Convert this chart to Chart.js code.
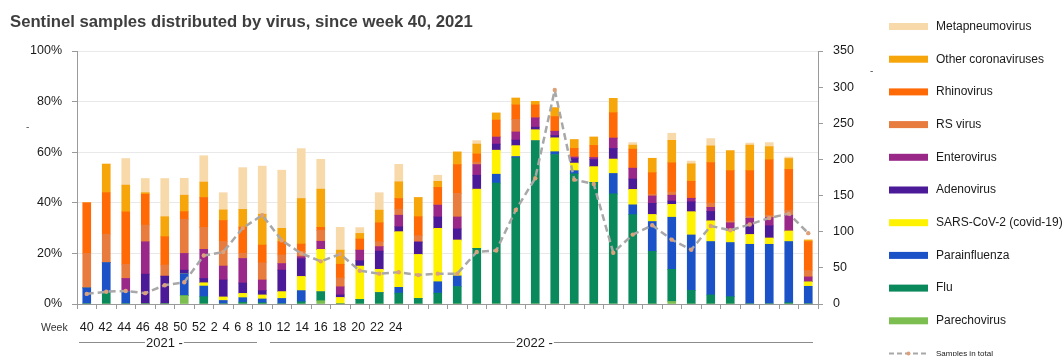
<!DOCTYPE html>
<html>
<head>
<meta charset="utf-8">
<script src="https://cdn.jsdelivr.net/npm/chart.js@4.4.0/dist/chart.umd.min.js"></script>
<style>
  html, body { margin: 0; padding: 0; background: #ffffff; overflow: hidden; }
  #wrap { position: relative; width: 1062px; height: 356px; }
</style>
</head>
<body>
<div id="wrap"><canvas id="c" width="1062" height="356"></canvas></div>
<script>
// Week numbers printed under the axis (two-week steps from week 40, 2021)
const weekTicks = ['40','42','44','46','48','50','52','2','4','6','8','10','12','14','16','18','20','22','24'];
const yearLabels = ['2021', '2022'];
const barCount = 38;
const categories = Array.from({ length: barCount }, (_, i) => i < weekTicks.length ? weekTicks[i] : '');

// Share of sentinel samples per virus, percent (stacked bottom to top)
const parechovirus = [0,0,0,0,0,3.3,0,0,0,0, 0,0,1.3,0,0,0,0,0,0,0, 0,0,0,0,0,0,0,0,0,0, 1,0,0,0,0,0,0,0];
const flu          = [0,4.5,0,0,0,0,2.9,0,0.7,0.5, 0,0.9,3.5,0,1.8,4.5,4.3,2.2,4.3,6.9, 22,47.8,57.8,64.5,59.1,51.5,48.1,43.5,35.3,20.8, 12.7,5.4,3.6,2.9,0,0,0.5,0];
const parainfluenza= [6.4,11.9,4.9,0,0,8.7,4.2,1.4,1.8,1.5, 2.2,4.4,0,0,0,0,2.3,0,4.5,4.2, 0,3.5,0.5,0,1.1,1.2,0,8.1,3.9,11.8, 20.6,21.9,21.1,21.4,23.6,23.6,24.2,7];
const sarsCov2     = [0,0,0,0,0,0,1.3,1.4,1.7,1.6, 2.7,5.6,16.8,2.6,13.2,9.2,22,17.4,21.1,14.2, 23.4,9.5,4.3,4.4,5.5,3,6.2,5.7,6.1,2.8, 5.1,9.2,8.2,4.6,3.9,2.5,4.2,1.8];
const adenovirus   = [0,0,0,11.8,11,1.4,1.7,6.7,4.1,1.7, 8.5,7,0,1,2.1,7.2,1.9,4.9,4.5,4.4, 5.5,2.4,2.2,1,0.9,1.8,2.8,4.2,4.1,4.4, 1.3,3.9,3.7,0,3.8,4.8,0,0];
const enterovirus  = [0,0,5.2,12.8,0,6.6,11.5,5.5,9.7,4.2, 2.6,0.8,3.2,3.2,4.2,1.8,4.6,0,4.7,4.7, 4.2,2.8,3.2,3.7,1.7,0.6,0.8,4.1,4.3,2.9, 2.3,1.4,1.6,3.2,2.6,3.3,6.2,1.9];
const rsVirus      = [13.6,11.2,5.6,6.6,4.4,13.5,8.7,9.7,2.1,6.8, 3.4,2,4.3,3.5,0,1.9,2.4,2.5,0,9.3, 1,0,5,0,0,0,0,0,0,0.6, 1.3,0,1.7,0.7,0.8,0.8,2,2.5];
const rhinovirus   = [20,16.4,20.7,12.2,11.2,3,11.8,8.3,10.3,7, 5.2,3,1.2,5.4,4.4,7.5,4.2,7.5,7,11.4, 3.2,6.7,5.7,5.1,5.8,3.4,4.8,10,7.5,8.6, 11.5,6.7,16,19.9,18,22,16.1,11.5];
const otherCorona  = [0,11.3,10.6,0.6,7.9,6.5,6.1,4.2,7,12.2, 5.3,18,15.1,5.6,2.2,5,6.6,7.6,2.4,5, 3.9,2.8,2.7,1.4,3.5,3.5,3.3,5.7,1.6,5.7, 8.9,6.9,6.6,7.9,10.1,5.2,4.3,0.6];
const metapneumo   = [0,0,10.5,5.6,15.1,6.7,10.4,6.8,16.5,19, 23,19.7,11.8,9,2.3,6.9,6.9,0,2.4,0, 1.4,0,0,0,0,0,0,0,1,0, 2.8,1.1,2.9,0,0.8,1.6,0.6,0];

// Number of samples in total (right axis)
const samplesTotal = [14,17,18,15,26,30,67,72,105,123, 88,70,59,69,46,42,44,40,42,42, 72,74,130,174,296,172,166,71,96,109, 89,75,108,102,110,119,125,98];

const titleText = 'Sentinel samples distributed by virus, since week 40, 2021';

const virusSeries = [
  { label: 'Parechovirus', data: parechovirus, color: '#7cbf50' },
  { label: 'Flu', data: flu, color: '#0a8a5c' },
  { label: 'Parainfluenza', data: parainfluenza, color: '#1c52c8' },
  { label: 'SARS-CoV-2 (covid-19)', data: sarsCov2, color: '#fff200' },
  { label: 'Adenovirus', data: adenovirus, color: '#4a1a98' },
  { label: 'Enterovirus', data: enterovirus, color: '#9a2888' },
  { label: 'RS virus', data: rsVirus, color: '#e87b3e' },
  { label: 'Rhinovirus', data: rhinovirus, color: '#ff6a06' },
  { label: 'Other coronaviruses', data: otherCorona, color: '#f6a50a' },
  { label: 'Metapneumovirus', data: metapneumo, color: '#f7d9aa' }
];

const FONT = '"Liberation Sans", Arial, sans-serif';
const AXIS_GREY = '#9a9a9a';

const datasets = virusSeries.map(s => ({
  type: 'bar',
  label: s.label,
  data: s.data,
  backgroundColor: s.color,
  borderWidth: 0,
  barThickness: 8,
  yAxisID: 'y',
  order: 1
}));
datasets.push({
  type: 'line',
  label: 'Samples in total',
  data: samplesTotal,
  yAxisID: 'y1',
  borderColor: '#a8a8a8',
  borderWidth: 2.5,
  borderDash: [7, 4],
  tension: 0,
  pointRadius: 2.2,
  pointBackgroundColor: '#dca17a',
  pointBorderWidth: 0,
  fill: false,
  order: 0
});

// Title, custom legend and the week / year rows under the axis
const decor = {
  id: 'decor',
  afterDraw(chart) {
    const c = chart.ctx;
    const xs = chart.scales.x;
    c.save();
    c.textAlign = 'left';
    c.textBaseline = 'alphabetic';

    // title
    c.fillStyle = '#3e3e3e';
    c.font = 'bold 16.7px ' + FONT;
    c.fillText(titleText, 10, 27);

    // small axis-title dashes
    c.fillStyle = '#555';
    c.font = '10px ' + FONT;
    c.fillText('-', 26, 130);
    c.fillText('-', 870, 74);

    // week row
    c.fillStyle = '#333';
    c.font = '10.5px ' + FONT;
    c.fillText('Week', 41, 331);
    c.fillStyle = '#1a1a1a';
    c.font = '12.5px ' + FONT;
    let x = xs.getPixelForValue(0) - c.measureText(weekTicks[0]).width / 2;
    weekTicks.forEach(t => {
      c.fillText(t, x, 331);
      x += c.measureText(t).width + 4.8;
    });

    // year row
    const spans = [
      { text: yearLabels[0] + ' -', x0: 79, tx: 146, x1: 257 },
      { text: yearLabels[1] + ' -', x0: 270, tx: 516, x1: 813 }
    ];
    c.font = '13px ' + FONT;
    c.strokeStyle = '#8c8c8c';
    c.lineWidth = 1;
    spans.forEach(s => {
      const w = c.measureText(s.text).width;
      c.fillStyle = '#1a1a1a';
      c.fillText(s.text, s.tx, 347);
      c.beginPath();
      c.moveTo(s.x0, 342.5); c.lineTo(s.tx - 1, 342.5);
      c.moveTo(s.tx + w + 1, 342.5); c.lineTo(s.x1, 342.5);
      c.stroke();
    });

    // legend: bar series top of stack first, then the line
    const items = chart.data.datasets.filter(d => d.type === 'bar').slice().reverse();
    const line = chart.data.datasets.find(d => d.type === 'line');
    c.font = '12px ' + FONT;
    items.forEach((d, i) => {
      const y = 26.5 + i * 32.7;
      c.fillStyle = d.backgroundColor;
      c.fillRect(889, y - 3.5, 39, 7);
      c.fillStyle = '#1a1a1a';
      c.textBaseline = 'middle';
      c.fillText(d.label, 936, y);
    });
    const ly = 26.5 + items.length * 32.7;
    c.strokeStyle = line.borderColor;
    c.lineWidth = 2;
    c.setLineDash([5, 3]);
    c.beginPath(); c.moveTo(889, ly); c.lineTo(928, ly); c.stroke();
    c.setLineDash([]);
    c.fillStyle = line.pointBackgroundColor;
    c.beginPath(); c.arc(908.5, ly, 2, 0, Math.PI * 2); c.fill();
    c.fillStyle = '#1a1a1a';
    c.font = '8px ' + FONT;
    c.fillText(line.label, 936, ly);
    c.restore();
  }
};

new Chart(document.getElementById('c'), {
  data: { labels: categories, datasets },
  options: {
    responsive: false,
    animation: false,
    events: [],
    layout: { padding: { left: 0, right: 194, top: 51, bottom: 44 } },
    plugins: { legend: { display: false }, title: { display: false }, tooltip: { enabled: false } },
    scales: {
      x: {
        stacked: true,
        offset: true,
        ticks: { display: false },
        grid: { offset: true, drawOnChartArea: false, drawTicks: true, tickLength: 5, tickColor: AXIS_GREY, color: AXIS_GREY },
        border: { color: AXIS_GREY, width: 1 },
        afterFit: s => { s.height = 8; }
      },
      y: {
        stacked: true,
        position: 'left',
        min: 0, max: 100,
        ticks: { stepSize: 20, callback: v => v + '%', color: '#1a1a1a', font: { family: FONT, size: 12.5 }, padding: 10 },
        grid: { color: '#e9e9e9', tickColor: AXIS_GREY, tickLength: 5, drawTicks: true },
        border: { color: AXIS_GREY, width: 1 },
        afterFit: s => { s.width = 77; }
      },
      y1: {
        position: 'right',
        min: 0, max: 350,
        ticks: { stepSize: 50, color: '#1a1a1a', font: { family: FONT, size: 12.5 }, padding: 10 },
        grid: { drawOnChartArea: false, tickColor: AXIS_GREY, tickLength: 5, drawTicks: true },
        border: { color: AXIS_GREY, width: 1 },
        afterFit: s => { s.width = 50; }
      }
    }
  },
  plugins: [decor]
});
</script>
</body>
</html>
